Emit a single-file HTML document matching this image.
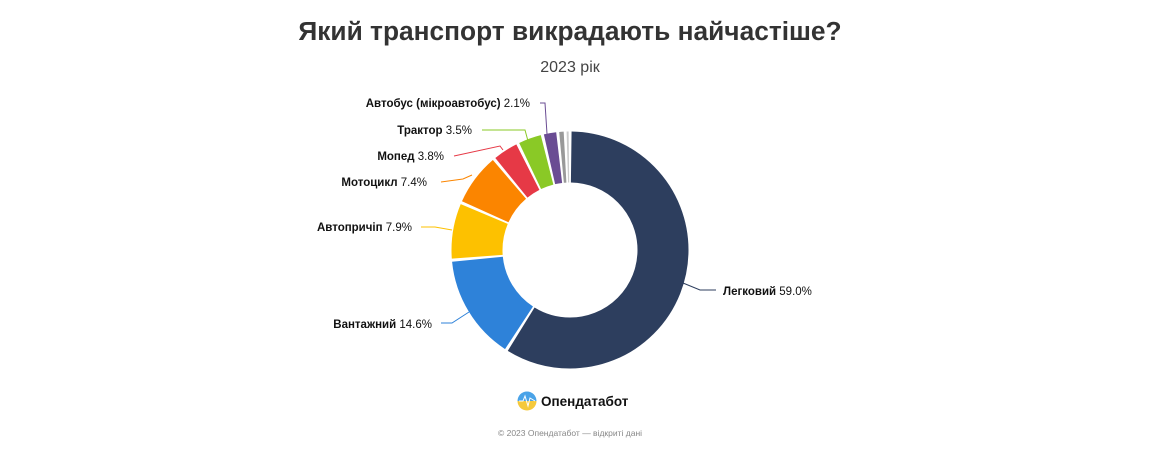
<!DOCTYPE html>
<html><head><meta charset="utf-8"><style>
html,body{margin:0;padding:0;background:#fff;width:1151px;height:452px;overflow:hidden}
svg{display:block}
.l{font-family:"Liberation Sans",sans-serif;font-size:11.5px;fill:#111}
.b{font-weight:bold}
</style></head><body>
<svg width="1151" height="452" viewBox="0 0 1151 452">
<text x="570" y="40" text-anchor="middle" font-family="Liberation Sans, sans-serif" font-weight="bold" font-size="26.3" fill="#333">Який транспорт викрадають найчастіше?</text>
<text x="570" y="72" text-anchor="middle" font-family="Liberation Sans, sans-serif" font-size="16" fill="#444">2023 рік</text>
<g transform="rotate(-90 570 250)" fill="none" stroke-width="51">
<circle cx="570" cy="250" r="93" stroke="#2d3e5e" stroke-dasharray="342.2 600" stroke-dashoffset="-1.25"/>
<circle cx="570" cy="250" r="93" stroke="#2e82d9" stroke-dasharray="82.8 600" stroke-dashoffset="-346.0"/>
<circle cx="570" cy="250" r="93" stroke="#fdc100" stroke-dasharray="43.7 600" stroke-dashoffset="-431.3"/>
<circle cx="570" cy="250" r="93" stroke="#fb8500" stroke-dasharray="40.7 600" stroke-dashoffset="-477.5"/>
<circle cx="570" cy="250" r="93" stroke="#e63946" stroke-dasharray="19.7 600" stroke-dashoffset="-520.7"/>
<circle cx="570" cy="250" r="93" stroke="#8ac926" stroke-dasharray="18.0 600" stroke-dashoffset="-542.9"/>
<circle cx="570" cy="250" r="93" stroke="#6a4c93" stroke-dasharray="9.8 600" stroke-dashoffset="-563.4"/>
<circle cx="570" cy="250" r="93" stroke="#999" stroke-dasharray="3.5 600" stroke-dashoffset="-575.6"/>
<circle cx="570" cy="250" r="93" stroke="#ccc" stroke-dasharray="1.6 600" stroke-dashoffset="-581.4"/>
</g>
<g fill="none" stroke-width="1">
<polyline points="683,283 700,290 716,290" stroke="#2d3e5e"/>
<polyline points="469,312 452,323 441,323" stroke="#2e82d9"/>
<polyline points="452,230 435,227 421,227" stroke="#fdc100"/>
<polyline points="472,175 463,179 441,182" stroke="#fb8500"/>
<polyline points="503,150 500,146 454,156" stroke="#e63946"/>
<polyline points="528,141 525,130 482,130" stroke="#8ac926"/>
<polyline points="547,134 545,103 540,103" stroke="#6a4c93"/>
</g>
<text class="l" x="723" y="295"><tspan class="b">Легковий</tspan> 59.0%</text>
<text class="l" x="432" y="328" text-anchor="end"><tspan class="b">Вантажний</tspan> 14.6%</text>
<text class="l" x="412" y="231" text-anchor="end"><tspan class="b">Автопричіп</tspan> 7.9%</text>
<text class="l" x="427" y="186" text-anchor="end"><tspan class="b">Мотоцикл</tspan> 7.4%</text>
<text class="l" x="444" y="160" text-anchor="end"><tspan class="b">Мопед</tspan> 3.8%</text>
<text class="l" x="472" y="134" text-anchor="end"><tspan class="b">Трактор</tspan> 3.5%</text>
<text class="l" x="530" y="107" text-anchor="end"><tspan class="b">Автобус (мікроавтобус)</tspan> 2.1%</text>
<defs><linearGradient id="g" x1="0" y1="0" x2="0" y2="1"><stop offset="0.5" stop-color="#4aa3e8"/><stop offset="0.5" stop-color="#f5c93c"/></linearGradient></defs>
<circle cx="527" cy="401" r="9.5" fill="url(#g)"/>
<polyline points="519,401 523,401 525,396 528,406 530,398 535,401" fill="none" stroke="#fff" stroke-width="1"/>
<text x="541" y="406" font-family="Liberation Sans, sans-serif" font-weight="bold" font-size="13.5" fill="#111">Опендатабот</text>
<text x="570" y="436" text-anchor="middle" font-family="Liberation Sans, sans-serif" font-size="8.5" fill="#888">© 2023 Опендатабот — відкриті дані</text>
</svg>
</body></html>
